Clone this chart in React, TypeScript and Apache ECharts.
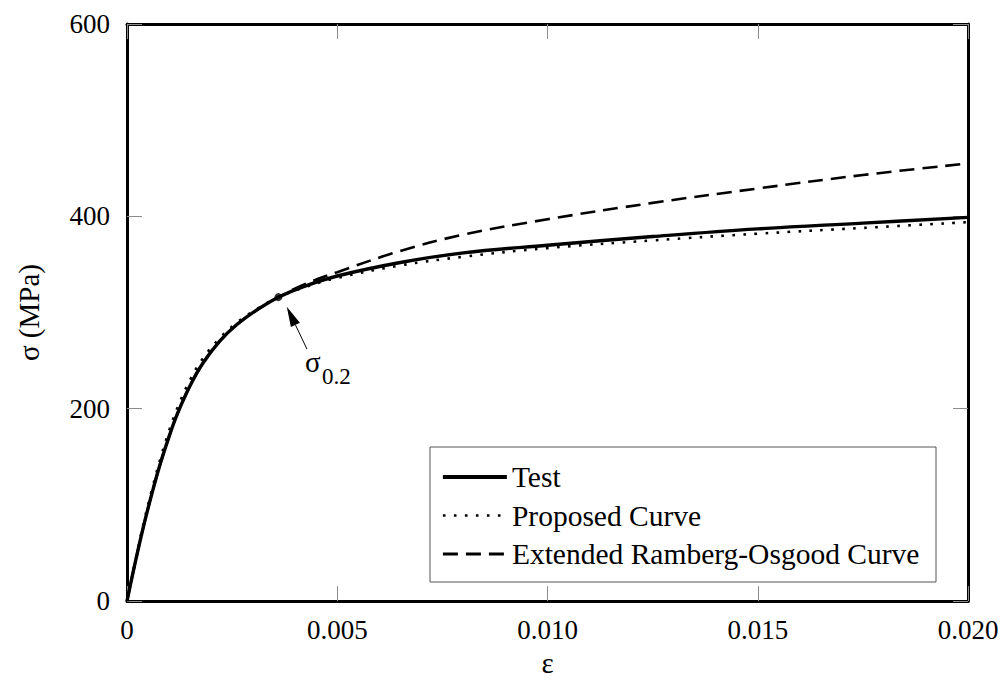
import React, { useEffect, useRef } from "react";
import * as echarts from "echarts";

// Strain (ε) and stress (σ, MPa)
const testStrain = [0, 0.0002, 0.0004, 0.0006, 0.0008, 0.001, 0.0012, 0.0015, 0.0018, 0.0022, 0.0026, 0.0031, 0.0036, 0.0042, 0.005, 0.0065, 0.008, 0.01, 0.0125, 0.015, 0.0175, 0.02];
const testStress = [0, 41, 79, 113, 144, 171, 195, 224, 247, 270, 287, 303, 316, 327, 338, 352, 362, 370, 379, 387, 393, 399];

const propStrain = [0, 0.0002, 0.0004, 0.0006, 0.0008, 0.001, 0.0012, 0.0015, 0.0018, 0.0022, 0.0026, 0.0031, 0.0036, 0.0042, 0.005, 0.0065, 0.008, 0.01, 0.0125, 0.015, 0.0175, 0.02];
const propStress = [0, 42, 82, 117, 149, 177, 201, 230, 252, 273, 289, 304, 316, 326, 336, 349, 358, 367, 375, 382, 388, 394];

const roStrain = [0, 0.0002, 0.0004, 0.0006, 0.0008, 0.001, 0.0012, 0.0015, 0.0018, 0.0022, 0.0026, 0.0031, 0.0036, 0.0042, 0.005, 0.0065, 0.008, 0.01, 0.0125, 0.015, 0.0175, 0.02];
const roStress = [0, 41, 79, 113, 144, 171, 195, 224, 247, 270, 287, 303, 316, 329, 342, 364, 381, 397, 414, 429, 443, 455];

const sigma02Point = [0.0036, 316];
const arrowTip = [0.0038, 306];
const arrowTail = [0.00428, 262];

const seriesNames = ["Test", "Proposed Curve", "Extended Ramberg-Osgood Curve"];

const xTicks = { min: 0, max: 0.02, interval: 0.005 };
const yTicks = { min: 0, max: 600, interval: 200 };

const zip = (a: number[], b: number[]) => a.map((v, i) => [v, b[i]]);

export default function App() {
  const ref = useRef<HTMLDivElement>(null);
  useEffect(() => {
    document.body.style.margin = "0";
    const chart = echarts.init(ref.current!, null, { renderer: "svg" });
    const FONT = "Liberation Serif";
    const tick = { show: true, inside: true, length: 15, lineStyle: { color: "#8c8c8c", width: 1 } };
    const axisLine = { show: true, onZero: false, lineStyle: { color: "#000", width: 3 } };
    const labelStyle = { fontSize: 27, fontFamily: FONT, color: "#000" };
    const nameStyle = { fontSize: 29, fontFamily: FONT, color: "#000" };
    const hiddenItem = { color: "#000", opacity: 0 };
    const solidStyle = { color: "#000", width: 3.4, type: "solid" };
    const dotStyle = { color: "#000", width: 2.6, type: [2.6, 8.4] };
    const dashStyle = { color: "#000", width: 2.6, type: [15, 8] };
    const option: any = {
      animation: false,
      grid: { left: 127, right: 37, top: 24, bottom: 74 },
      xAxis: [
        {
          type: "value", ...xTicks, axisLine, axisTick: tick, splitLine: { show: false },
          axisLabel: { ...labelStyle, margin: 15, formatter: (v: number) => (v === 0 ? "0" : v.toFixed(3)) },
          name: "ε", nameLocation: "middle", nameGap: 38,
          nameTextStyle: { ...nameStyle },
        },
        { type: "value", position: "top", ...xTicks, axisLine, axisTick: tick, axisLabel: { show: false }, splitLine: { show: false } },
      ],
      yAxis: [
        {
          type: "value", ...yTicks, axisLine, axisTick: tick, splitLine: { show: false },
          axisLabel: { ...labelStyle, margin: 17 },
          name: "σ (MPa)", nameLocation: "middle", nameGap: 84,
          nameTextStyle: { ...nameStyle },
        },
        { type: "value", position: "right", ...yTicks, axisLine, axisTick: tick, axisLabel: { show: false }, splitLine: { show: false } },
      ],
      legend: {
        data: [
          { name: seriesNames[0], lineStyle: { ...solidStyle, width: 3.8 } },
          { name: seriesNames[1], lineStyle: { ...dotStyle } },
          { name: seriesNames[2], lineStyle: { ...dashStyle, width: 3 } },
        ],
        orient: "vertical",
        left: 436,
        top: 456,
        itemWidth: 64,
        itemHeight: 14,
        itemGap: 6.5,
        itemStyle: { opacity: 0 },
        textStyle: { fontSize: 29.5, fontFamily: FONT, color: "#000", lineHeight: 32 },
        selectedMode: false,
      },
      series: [
        {
          name: seriesNames[2], type: "line", data: zip(roStrain, roStress), showSymbol: false, symbol: "none",
          smooth: 0.4, itemStyle: hiddenItem, lineStyle: dashStyle, z: 2,
        },
        {
          name: seriesNames[1], type: "line", data: zip(propStrain, propStress), showSymbol: false, symbol: "none",
          smooth: 0.4, itemStyle: hiddenItem, lineStyle: dotStyle, z: 3,
        },
        {
          name: seriesNames[0], type: "line", data: zip(testStrain, testStress), showSymbol: false, symbol: "none",
          smooth: 0.4, itemStyle: hiddenItem, lineStyle: solidStyle, z: 4,
        },
        {
          name: "σ0.2", type: "scatter", data: [sigma02Point], symbol: "circle", symbolSize: 8,
          itemStyle: { color: "#000" }, z: 5,
        },
      ],
    };
    chart.setOption(option);

    const tip = chart.convertToPixel({ xAxisIndex: 0, yAxisIndex: 0 }, arrowTip) as number[];
    const tail = chart.convertToPixel({ xAxisIndex: 0, yAxisIndex: 0 }, arrowTail) as number[];
    const dx = tip[0] - tail[0];
    const dy = tip[1] - tail[1];
    const len = Math.hypot(dx, dy);
    const ux = dx / len, uy = dy / len;
    const headLen = 20, headHalf = 5;
    const bx = tip[0] - ux * headLen, by = tip[1] - uy * headLen;
    const nx = -uy, ny = ux;

    chart.setOption({
      graphic: [
        {
          type: "rect", shape: { x: 430, y: 447, width: 506, height: 135 },
          style: { fill: "none", stroke: "#555", lineWidth: 1 }, z: 1,
        },
        {
          type: "line", shape: { x1: tail[0], y1: tail[1], x2: bx, y2: by },
          style: { stroke: "#000", lineWidth: 1 }, z: 10,
        },
        {
          type: "polygon",
          shape: { points: [[tip[0], tip[1]], [bx + nx * headHalf, by + ny * headHalf], [bx - nx * headHalf, by - ny * headHalf]] },
          style: { fill: "#000" }, z: 10,
        },
        {
          type: "text", x: tail[0] - 2, y: tail[1] + 13,
          style: { text: "σ", fontSize: 29, fontFamily: FONT, fill: "#000", verticalAlign: "middle", align: "left" }, z: 10,
        },
        {
          type: "text", x: tail[0] + 15, y: tail[1] + 27,
          style: { text: "0.2", fontSize: 23, fontFamily: FONT, fill: "#000", verticalAlign: "middle", align: "left" }, z: 10,
        },
      ],
    });
    return () => chart.dispose();
  }, []);
  return <div ref={ref} style={{ position: "absolute", left: 0, top: 0, width: 1005, height: 682 }} />;
}
